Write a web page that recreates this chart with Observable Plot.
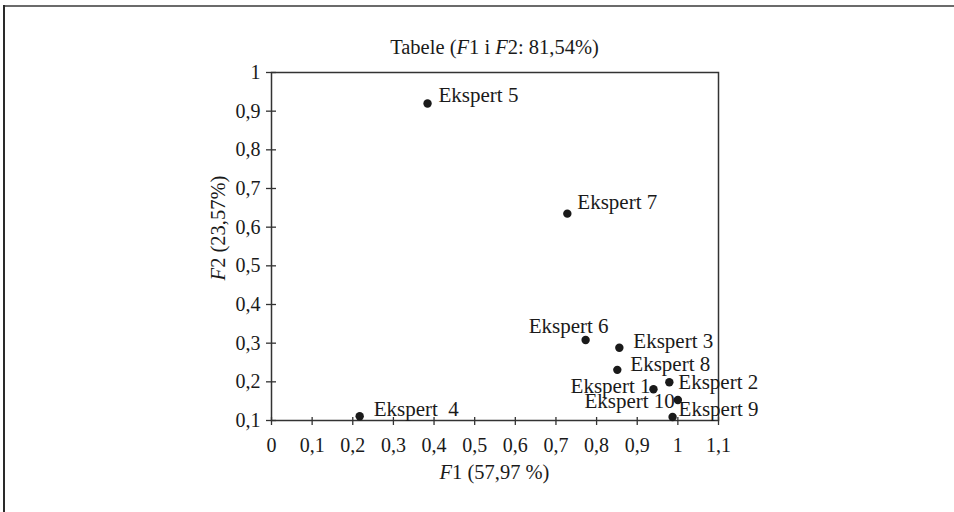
<!DOCTYPE html>
<html><head><meta charset="utf-8">
<script src="https://cdn.jsdelivr.net/npm/d3@7"></script>
<script src="https://cdn.jsdelivr.net/npm/@observablehq/plot@0.6"></script>
<style>
body{margin:0;background:#fff;}
#wrap{position:relative;width:954px;height:512px;overflow:hidden;background:#fff;}
#wrap .bt{position:absolute;left:3px;top:5px;width:951px;height:2px;background:#6b6b6b;}
#wrap .bl{position:absolute;left:3px;top:5px;width:2px;height:507px;background:#2a2a2a;}
#wrap svg, #wrap svg text, #wrap svg tspan{font-family:"Liberation Serif","DejaVu Serif",serif !important;}
</style></head><body>
<div id="wrap"><div class="bt"></div><div class="bl"></div></div>
<script>
// ---- data ----
const experts = ["Ekspert 1","Ekspert 2","Ekspert 3","Ekspert  4","Ekspert 5","Ekspert 6","Ekspert 7","Ekspert 8","Ekspert 9","Ekspert 10"];
const f1 = [0.940, 0.979, 0.856, 0.217, 0.384, 0.773, 0.728, 0.851, 0.987, 1.000];
const f2 = [0.181, 0.199, 0.288, 0.111, 0.920, 0.308, 0.635, 0.231, 0.109, 0.153];
const xTicks = [0,0.1,0.2,0.3,0.4,0.5,0.6,0.7,0.8,0.9,1,1.1];
const yTicks = [0.1,0.2,0.3,0.4,0.5,0.6,0.7,0.8,0.9,1];
const xDomain = [0, 1.1];
const yDomain = [0.1, 1];
const titleParts = [["Tabele (",false],["F",true],["1 i ",false],["F",true],["2: 81,54%)",false]];
const xLabelParts = [["F",true],["1 (57,97 %)",false]];
const yLabelParts = [["F",true],["2 (23,57%)",false]];

// ---- label placement (styling) ----
const labelDx = [-3, 9, 14, 14, 11, 23, 10, 13, 6, -3];
const labelDy = [-3, 0, -7, -7, -8, -14, -11, -6, -8, 1];
const labelAnchor = ["end","start","start","start","start","end","start","start","start","end"];

const fmt = d => String(d).replace(".", ",");
const idx = d3.range(experts.length);
const ink = "#1a1a1a";
const serif = '"Liberation Serif","DejaVu Serif",serif';

const plot = Plot.plot({
  width: 954, height: 512,
  marginLeft: 271, marginRight: 236, marginTop: 72, marginBottom: 92,
  style: {fontFamily: serif, fontSize: "20px", color: ink, background: "transparent"},
  x: {domain: xDomain},
  y: {domain: yDomain},
  marks: [
    Plot.frame({stroke: "#333", strokeWidth: 1.5}),
    Plot.axisX({ticks: xTicks, tickSize: 0, tickPadding: 17, tickFormat: fmt, label: null, fontSize: 20}),
    Plot.axisY({ticks: yTicks, tickSize: 0, tickPadding: 11, tickFormat: fmt, label: null, fontSize: 20}),
    Plot.ruleX(xTicks, {x: d => d, y1: yDomain[0], y2: yDomain[0], insetTop: -3, insetBottom: -5, stroke: "#333", strokeWidth: 1.3}),
    Plot.ruleY(yTicks, {y: d => d, x1: xDomain[0], x2: xDomain[0], insetLeft: -5, insetRight: -5, stroke: "#333", strokeWidth: 1.3}),
    Plot.dot(idx, {x: i => f1[i], y: i => f2[i], r: 4.2, fill: ink, stroke: null}),
    ...idx.map(i => Plot.text([i], {x: k => f1[k], y: k => f2[k], text: k => experts[k], dx: labelDx[i], dy: labelDy[i], textAnchor: labelAnchor[i], fontSize: 21, fill: ink}))
  ]
});

const svg = d3.select(plot);
svg.style("position", "absolute").style("left", "0px").style("top", "0px").style("overflow", "visible");
const sx = plot.scale("x"), sy = plot.scale("y");
const cx = (sx.apply(xDomain[0]) + sx.apply(xDomain[1])) / 2;

function addText(parts, x, y, rotate) {
  const t = svg.append("text")
    .attr("text-anchor", "middle")
    .attr("dominant-baseline", "central")
    .attr("font-size", 20.5)
    .attr("fill", ink)
    .attr("transform", `translate(${x},${y})` + (rotate ? " rotate(-90)" : ""));
  parts.forEach(([s, it]) => t.append("tspan").text(s).attr("font-style", it ? "italic" : null));
}
addText(titleParts, cx, 47, false);
addText(xLabelParts, cx, 472, false);
addText(yLabelParts, 218, 228, true);
svg.selectAll("text").style("white-space", "pre").style("font-family", serif);

document.getElementById("wrap").appendChild(plot);
</script>
</body></html>
